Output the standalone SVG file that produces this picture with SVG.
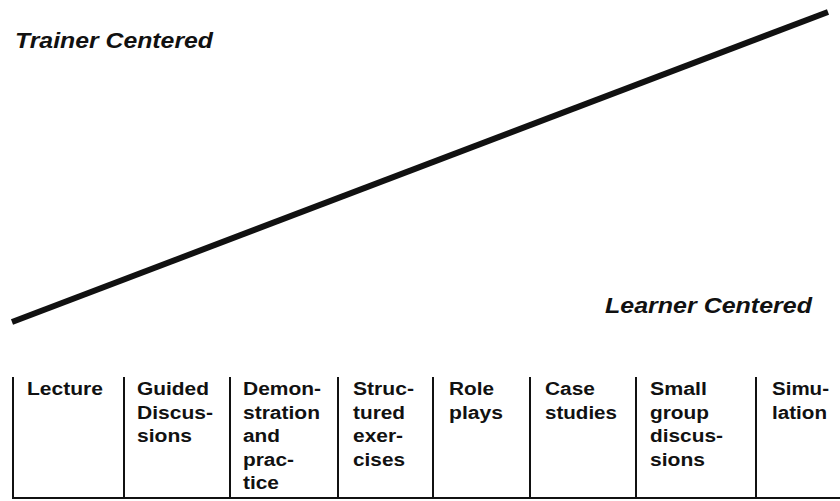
<svg xmlns="http://www.w3.org/2000/svg" width="840" height="501" viewBox="0 0 840 501">
<style>
.title{font-family:"Liberation Sans",Arial,sans-serif;font-size:22px;font-weight:bold;font-style:italic;fill:#111}
.cell{font-family:"Liberation Sans",Arial,sans-serif;font-size:18px;font-weight:bold;fill:#111}
.rule{stroke:#111;stroke-width:2;fill:none}
</style>
<rect width="840" height="501" fill="#fff"/>
<g id="trainer-centered">
<text class="title" x="15" y="48" textLength="198" lengthAdjust="spacingAndGlyphs">Trainer Centered</text>
</g>
<g id="learner-centered">
<text class="title" x="605" y="313" textLength="207" lengthAdjust="spacingAndGlyphs">Learner Centered</text>
</g>
<g id="connectors">
<line x1="12" y1="322" x2="828" y2="12" stroke="#111" stroke-width="6"/>
</g>
<g id="table-rules">
<line class="rule" x1="12" y1="498" x2="840" y2="498" stroke-width="2.5"/>
<line class="rule" x1="13" y1="377" x2="13" y2="498"/>
<line class="rule" x1="124" y1="377" x2="124" y2="498"/>
<line class="rule" x1="230" y1="377" x2="230" y2="498"/>
<line class="rule" x1="338" y1="377" x2="338" y2="498"/>
<line class="rule" x1="433" y1="377" x2="433" y2="498"/>
<line class="rule" x1="530" y1="377" x2="530" y2="498"/>
<line class="rule" x1="636" y1="377" x2="636" y2="498"/>
<line class="rule" x1="756" y1="377" x2="756" y2="498"/>
</g>
<g id="lecture">
<text class="cell" x="27" y="395" textLength="76" lengthAdjust="spacingAndGlyphs">Lecture</text>
</g>
<g id="guided-discussions">
<text class="cell" x="137" y="395" textLength="72" lengthAdjust="spacingAndGlyphs">Guided</text>
<text class="cell" x="137" y="418.5" textLength="76" lengthAdjust="spacingAndGlyphs">Discus-</text>
<text class="cell" x="137" y="442" textLength="55" lengthAdjust="spacingAndGlyphs">sions</text>
</g>
<g id="demonstration">
<text class="cell" x="243" y="395" textLength="78" lengthAdjust="spacingAndGlyphs">Demon-</text>
<text class="cell" x="243" y="418.5" textLength="77" lengthAdjust="spacingAndGlyphs">stration</text>
<text class="cell" x="243" y="442" textLength="37" lengthAdjust="spacingAndGlyphs">and</text>
<text class="cell" x="243" y="465.5" textLength="51" lengthAdjust="spacingAndGlyphs">prac-</text>
<text class="cell" x="243" y="489" textLength="36" lengthAdjust="spacingAndGlyphs">tice</text>
</g>
<g id="structured-exercises">
<text class="cell" x="353" y="395" textLength="61" lengthAdjust="spacingAndGlyphs">Struc-</text>
<text class="cell" x="353" y="418.5" textLength="52" lengthAdjust="spacingAndGlyphs">tured</text>
<text class="cell" x="353" y="442" textLength="50" lengthAdjust="spacingAndGlyphs">exer-</text>
<text class="cell" x="353" y="465.5" textLength="52" lengthAdjust="spacingAndGlyphs">cises</text>
</g>
<g id="role-plays">
<text class="cell" x="449" y="395" textLength="45" lengthAdjust="spacingAndGlyphs">Role</text>
<text class="cell" x="449" y="418.5" textLength="54" lengthAdjust="spacingAndGlyphs">plays</text>
</g>
<g id="case-studies">
<text class="cell" x="545" y="395" textLength="50" lengthAdjust="spacingAndGlyphs">Case</text>
<text class="cell" x="545" y="418.5" textLength="72" lengthAdjust="spacingAndGlyphs">studies</text>
</g>
<g id="small-group-discussions">
<text class="cell" x="650" y="395" textLength="57" lengthAdjust="spacingAndGlyphs">Small</text>
<text class="cell" x="650" y="418.5" textLength="59" lengthAdjust="spacingAndGlyphs">group</text>
<text class="cell" x="650" y="442" textLength="73" lengthAdjust="spacingAndGlyphs">discus-</text>
<text class="cell" x="650" y="465.5" textLength="55" lengthAdjust="spacingAndGlyphs">sions</text>
</g>
<g id="simulation">
<text class="cell" x="772" y="395" textLength="57" lengthAdjust="spacingAndGlyphs">Simu-</text>
<text class="cell" x="772" y="418.5" textLength="55" lengthAdjust="spacingAndGlyphs">lation</text>
</g>
</svg>
